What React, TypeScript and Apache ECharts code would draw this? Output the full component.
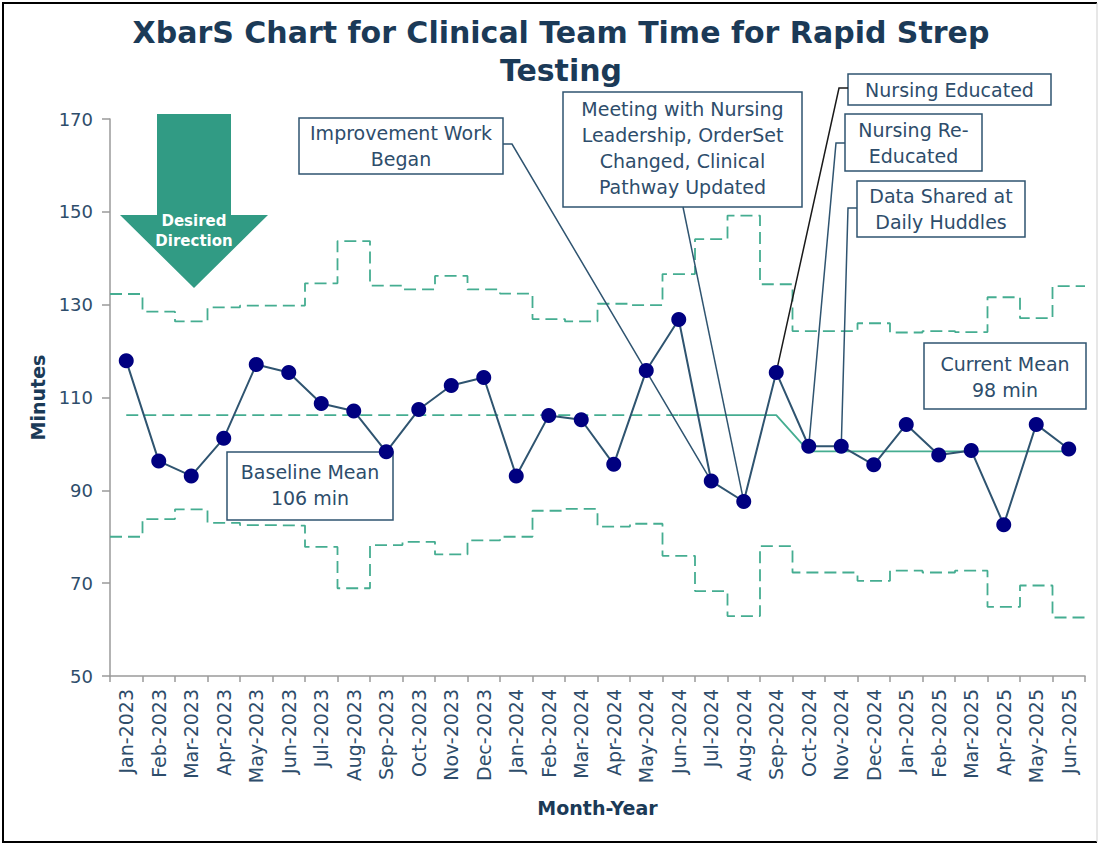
import React, { useEffect, useRef } from 'react';
import * as echarts from 'echarts';

const months = [
  'Jan-2023', 'Feb-2023', 'Mar-2023', 'Apr-2023', 'May-2023', 'Jun-2023',
  'Jul-2023', 'Aug-2023', 'Sep-2023', 'Oct-2023', 'Nov-2023', 'Dec-2023',
  'Jan-2024', 'Feb-2024', 'Mar-2024', 'Apr-2024', 'May-2024', 'Jun-2024',
  'Jul-2024', 'Aug-2024', 'Sep-2024', 'Oct-2024', 'Nov-2024', 'Dec-2024',
  'Jan-2025', 'Feb-2025', 'Mar-2025', 'Apr-2025', 'May-2025', 'Jun-2025',
];

const meanValues = [
  117.9, 96.3, 93.1, 101.2, 117.1, 115.4, 108.7, 107.1, 98.3, 107.4, 112.6, 114.3,
  93.1, 106.1, 105.2, 95.6, 115.8, 126.8, 92.0, 87.6, 115.4, 99.5, 99.5, 95.5,
  104.2, 97.6, 98.6, 82.6, 104.2, 98.9,
];

const uclValues = [
  132.3, 128.5, 126.4, 129.4, 129.8, 129.8, 134.6, 143.7, 134.1, 133.3, 136.2, 133.3,
  132.4, 126.9, 126.4, 130.2, 129.9, 136.6, 144.1, 149.2, 134.4, 124.3, 124.3, 126.0,
  124.0, 124.3, 124.1, 131.6, 127.1, 134.0,
];

const lclValues = [
  80.0, 83.8, 85.9, 83.0, 82.5, 82.4, 77.8, 68.9, 78.2, 78.9, 76.2, 79.2,
  80.0, 85.6, 86.0, 82.2, 82.8, 75.9, 68.3, 62.9, 78.0, 72.3, 72.3, 70.5,
  72.7, 72.3, 72.7, 64.9, 69.5, 62.6,
];

const baselineMean = 106.2;
const currentMean = 98.4;
const baselineEnd = 17; // Jun-2024: dashed part ends, solid begins
const lastBaseline = 20; // Sep-2024

const yTicks = { min: 50, max: 170, interval: 20 };

const FONT = 'DejaVu Sans';
const TEXT = '#2e4d6b';
const DARK = '#1b3a57';
const BOX = '#2f5470';
const TEAL = '#45ad91';

type Note = { text: string; x: number; y: number; w: number; h: number; cy: number };

const notes: Note[] = [
  { text: 'Improvement Work\nBegan', x: 299, y: 118, w: 204, h: 56, cy: 146 },
  { text: 'Meeting with Nursing\nLeadership, OrderSet\nChanged, Clinical\nPathway Updated', x: 563, y: 92, w: 239, h: 115, cy: 148 },
  { text: 'Nursing Educated', x: 848, y: 74, w: 203, h: 31, cy: 89.5 },
  { text: 'Nursing Re-\nEducated', x: 845, y: 114, w: 137, h: 57, cy: 143 },
  { text: 'Data Shared at\nDaily Huddles', x: 857, y: 181, w: 168, h: 56, cy: 209 },
  { text: 'Baseline Mean\n106 min', x: 227, y: 452, w: 166, h: 68, cy: 485 },
  { text: 'Current Mean\n98 min', x: 924, y: 343, w: 162, h: 66, cy: 377 },
];

export default function App() {
  const ref = useRef<HTMLDivElement>(null);

  useEffect(() => {
    const chart = echarts.init(ref.current!, null, { renderer: 'svg' });

    const stepPts = (vals: number[]) => {
      const pts = vals.map((v, i) => [i, v]);
      pts.push([vals.length, vals[vals.length - 1]]);
      return pts;
    };

    const dashedCenter = months.map((_, i) => (i <= baselineEnd ? baselineMean : null));
    const solidCenter = months.map((_, i) =>
      i < baselineEnd ? null : i <= lastBaseline ? baselineMean : currentMean
    );

    const limitStyle = { color: TEAL, width: 1.8, type: [12, 6] as number[] };

    chart.setOption({
      animation: false,
      backgroundColor: '#ffffff',
      grid: { left: 110, right: 15, top: 119, bottom: 170, containLabel: false },
      xAxis: [
        {
          type: 'category',
          data: months,
          boundaryGap: true,
          axisLine: { show: true, lineStyle: { color: '#9a9a9a', width: 1.5 } },
          axisTick: { show: true, length: 6, interval: 0, lineStyle: { color: '#9a9a9a', width: 1.5 } },
          axisLabel: {
            interval: 0,
            rotate: 90,
            margin: 13,
            fontFamily: FONT,
            fontSize: 19,
            color: TEXT,
          },
          name: 'Month-Year',
          nameLocation: 'middle',
          nameGap: 122,
          nameTextStyle: { fontFamily: FONT, fontSize: 19, fontWeight: 'bold', color: DARK },
        },
        {
          type: 'value',
          min: 0,
          max: months.length,
          show: false,
        },
      ],
      yAxis: {
        type: 'value',
        min: yTicks.min,
        max: yTicks.max,
        interval: yTicks.interval,
        splitLine: { show: false },
        axisLine: { show: true, lineStyle: { color: '#9a9a9a', width: 1.5 } },
        axisTick: { show: true, length: 8, lineStyle: { color: '#9a9a9a', width: 1.5 } },
        axisLabel: { fontFamily: FONT, fontSize: 18, color: TEXT, margin: 17 },
        name: 'Minutes',
        nameLocation: 'middle',
        nameGap: 63,
        nameTextStyle: { fontFamily: FONT, fontSize: 19, fontWeight: 'bold', color: DARK },
      },
      series: [
        {
          name: 'UCL',
          type: 'line',
          xAxisIndex: 1,
          step: 'end',
          symbol: 'none',
          data: stepPts(uclValues),
          lineStyle: limitStyle,
          z: 2,
        },
        {
          name: 'LCL',
          type: 'line',
          xAxisIndex: 1,
          step: 'end',
          symbol: 'none',
          data: stepPts(lclValues),
          lineStyle: limitStyle,
          z: 2,
        },
        {
          name: 'Baseline CL',
          type: 'line',
          symbol: 'none',
          data: dashedCenter,
          lineStyle: limitStyle,
          z: 2,
        },
        {
          name: 'CL',
          type: 'line',
          symbol: 'none',
          data: solidCenter,
          lineStyle: { color: TEAL, width: 1.8 },
          z: 2,
        },
        {
          name: 'Mean',
          type: 'line',
          data: meanValues,
          symbol: 'circle',
          symbolSize: 15,
          itemStyle: { color: '#000080' },
          lineStyle: { color: BOX, width: 2 },
          z: 5,
        },
      ],
    });

    const pt = (i: number) =>
      chart.convertToPixel({ xAxisIndex: 0, yAxisIndex: 0 }, [i, meanValues[i]]) as number[];

    const leaders = [
      { pts: [[503, 144], [512, 144], pt(18)], color: BOX },
      { pts: [[683, 207], pt(19)], color: BOX },
      { pts: [[848, 88], [839, 88], pt(20)], color: '#1a1a1a' },
      { pts: [[845, 143], [836, 143], pt(21)], color: BOX },
      { pts: [[857, 208], [848, 208], pt(22)], color: BOX },
    ];

    const graphics: any[] = [];

    graphics.push({
      type: 'text',
      x: 561,
      y: 51,
      z: 10,
      style: {
        text: 'XbarS Chart for Clinical Team Time for Rapid Strep\nTesting',
        font: `bold 30px "${FONT}"`,
        fill: DARK,
        textAlign: 'center',
        textVerticalAlign: 'middle',
        lineHeight: 38,
      },
    });

    graphics.push({
      type: 'polygon',
      z: 1,
      shape: {
        points: [[157, 114], [231, 114], [231, 215], [268, 215], [194, 288], [120, 215], [157, 215]],
      },
      style: { fill: '#319b84' },
    });
    graphics.push({
      type: 'text',
      x: 194,
      y: 231,
      z: 3,
      style: {
        text: 'Desired\nDirection',
        font: `bold 15px "${FONT}"`,
        fill: '#ffffff',
        textAlign: 'center',
        textVerticalAlign: 'middle',
        lineHeight: 20,
      },
    });

    leaders.forEach((l) => {
      graphics.push({
        type: 'polyline',
        z: 3,
        shape: { points: l.pts },
        style: { stroke: l.color, lineWidth: 1.5, fill: null },
      });
    });

    notes.forEach((n) => {
      graphics.push({
        type: 'rect',
        z: 1,
        shape: { x: n.x, y: n.y, width: n.w, height: n.h },
        style: { fill: '#ffffff', stroke: BOX, lineWidth: 1.5 },
      });
      graphics.push({
        type: 'text',
        z: 1,
        x: n.x + n.w / 2,
        y: n.cy,
        style: {
          text: n.text,
          font: `19px "${FONT}"`,
          fill: TEXT,
          textAlign: 'center',
          textVerticalAlign: 'middle',
          lineHeight: 26,
        },
      });
    });

    graphics.push({
      type: 'polyline',
      z: 20,
      shape: { points: [[1097, 3], [3, 3], [3, 842], [1097, 842]] },
      style: { stroke: '#000000', lineWidth: 2, fill: null },
    });
    graphics.push({
      type: 'line',
      z: 20,
      shape: { x1: 1097, y1: 3, x2: 1097, y2: 842 },
      style: { stroke: '#cfcfcf', lineWidth: 1 },
    });

    chart.setOption({ graphic: graphics });

    return () => chart.dispose();
  }, []);

  return (
    <div
      ref={ref}
      style={{ position: 'absolute', left: 0, top: 0, width: 1100, height: 846 }}
    />
  );
}
